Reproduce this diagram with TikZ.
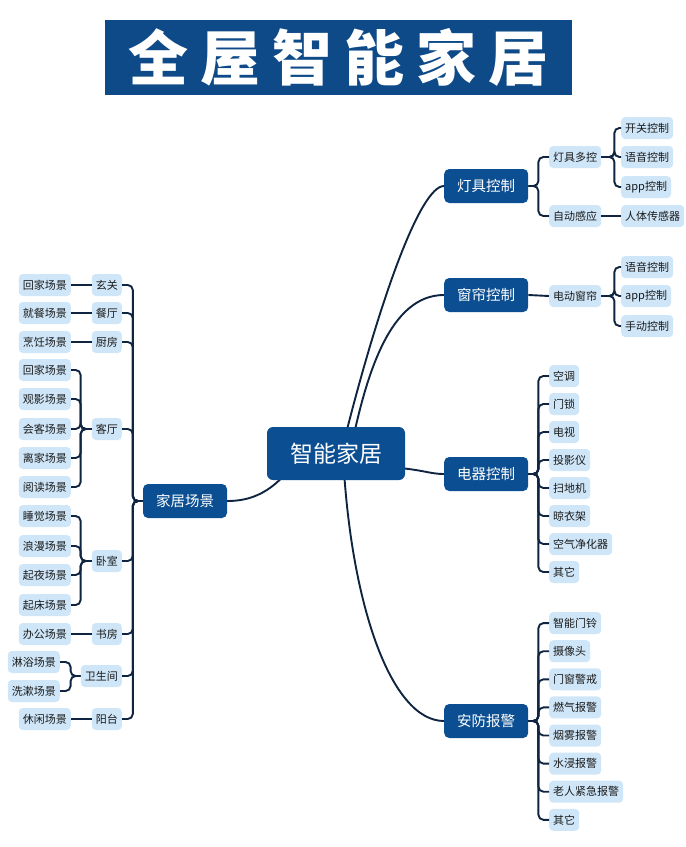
\documentclass[tikz,border=0pt]{standalone}
\usepackage{fontspec}
\setmainfont{Noto Sans CJK SC}
\usetikzlibrary{backgrounds}
\definecolor{deepblue}{HTML}{0B4F92}
\definecolor{titleblue}{HTML}{0E4A87}
\definecolor{paleblue}{HTML}{CFE6F8}
\definecolor{linecol}{HTML}{0F2440}
\definecolor{inkcol}{HTML}{1A1A1A}

\begin{document}
\begin{tikzpicture}[x=1pt,y=-1pt,
			box/.style={rounded corners=4pt,fill=paleblue,text=inkcol,inner xsep=4pt,inner ysep=0pt,
				minimum height=22pt,font=\fontsize{11}{11}\selectfont},
			topic/.style={rounded corners=5pt,fill=deepblue,text=white,minimum width=84pt,
				minimum height=34pt,font=\fontsize{14.5}{14.5}\selectfont},
			core/.style={rounded corners=6pt,fill=deepblue,text=white,minimum width=138pt,
				minimum height=53pt,font=\fontsize{23}{23}\selectfont},
			link/.style={draw=linecol,line width=1.9pt},
			fork/.style={link,rounded corners=5pt}]
		\useasboundingbox (0,0) rectangle (686,847);

		\node[fill=titleblue,text=white,inner sep=0pt,minimum width=467pt,minimum height=75pt,
			font=\fontsize{60}{60}\selectfont\bfseries] (ttl) at (338.5,57.5)
			{全\hspace{12pt}屋\hspace{12pt}智\hspace{12pt}能\hspace{12pt}家\hspace{12pt}居};

		\node[core] (core) at (336,453.5) {智能家居};

		\node[topic,anchor=west] (light) at (444,186) {灯具控制};
		\node[topic,anchor=west] (curtain) at (444,295) {窗帘控制};
		\node[topic,anchor=west] (device) at (444,474) {电器控制};
		\node[topic,anchor=west] (safety) at (444,721) {安防报警};
		\node[topic] (scene) at (185,501) {家居场景};

		% right side
		\begin{scope}[nodes={box,anchor=west}]
			\node (multi) at (549,157) {灯具多控};
			\node (auto) at (549,216) {自动感应};
			\node (motor) at (549,296) {电动窗帘};
			\node (m1) at (621,128) {开关控制};
			\node (m2) at (621,157) {语音控制};
			\node (m3) at (621,187) {app控制};
			\node (a1) at (621,216) {人体传感器};
			\node (c1) at (621,267) {语音控制};
			\node (c2) at (621,296) {app控制};
			\node (c3) at (621,326) {手动控制};
			\foreach \txt [count=\i] in {空调,门锁,电视,投影仪,扫地机,晾衣架,空气净化器,其它}
				\node (d\i) at (549,{348+28*\i}) {\txt};
			\foreach \txt [count=\i] in {智能门铃,摄像头,门窗警戒,燃气报警,烟雾报警,水浸报警,老人紧急报警,其它}
				\node (s\i) at (549,{595+28.1*\i}) {\txt};
		\end{scope}

		% left side
		\begin{scope}[nodes={box,anchor=east}]
			\node (porch) at (122,285) {玄关};
			\node (dining) at (122,313) {餐厅};
			\node (kitchen) at (122,342) {厨房};
			\node (living) at (122,429) {客厅};
			\node (bed) at (122,561) {卧室};
			\node (study) at (122,634) {书房};
			\node (bath) at (122,676) {卫生间};
			\node (balcony) at (122,719) {阳台};
			\node (porch1) at (71,285) {回家场景};
			\node (dining1) at (71,313) {就餐场景};
			\node (kitchen1) at (71,342) {烹饪场景};
			\foreach \txt/\y [count=\i] in {回家场景/370,观影场景/399,会客场景/429,离家场景/458,阅读场景/487}
				\node (living\i) at (71,\y) {\txt};
			\foreach \txt/\y [count=\i] in {睡觉场景/516,浪漫场景/546,起夜场景/575,起床场景/605}
				\node (bed\i) at (71,\y) {\txt};
			\node (study1) at (71,634) {办公场景};
			\node (bath1) at (60,662) {淋浴场景};
			\node (bath2) at (60,691) {洗漱场景};
			\node (balcony1) at (71,719) {休闲场景};
		\end{scope}

		\begin{scope}[on background layer]
			\draw[link] ([xshift=5pt]core.center) .. controls +(37,-150) and +(-24,0) .. (light.west);
			\draw[link] ([xshift=14pt]core.center) .. controls +(16,-80) and +(-54,0) .. (curtain.west);
			\draw[link] ([yshift=-12pt]core.center) .. controls +(84,0) and +(-20,0) .. (device.west);
			\draw[link] ([xshift=7pt]core.center) .. controls +(7,147) and +(-54,0) .. (safety.west);
			\draw[link] ([xshift=-36pt]core.center) .. controls +(-25,42) and +(20,0) .. (scene.east);
		\end{scope}

		\foreach \n in {multi,auto}
			\draw[fork] (light.east) -- ++(10,0) |- (\n.west);
		\foreach \n in {m1,m2,m3}
			\draw[fork] (multi.east) -- ++(13,0) |- (\n.west);
		\draw[link] (auto.east) -- (a1.west);
		\draw[link] (curtain.east) -- (motor.west);
		\foreach \n in {c1,c2,c3}
			\draw[fork] (motor.east) -- ++(13,0) |- (\n.west);
		\foreach \i in {1,...,8} {
			\draw[fork] (device.east) -- ++(10,0) |- (d\i.west);
			\draw[fork] (safety.east) -- ++(10,0) |- (s\i.west);
		}

		\foreach \n in {porch,dining,kitchen,living,bed,study,bath,balcony}
			\draw[fork] (scene.west) -- ++(-10,0) |- (\n.east);
		\foreach \n in {porch,dining,kitchen,study,balcony}
			\draw[link] (\n1.east) -- (\n.west);
		\foreach \i in {1,...,5}
			\draw[fork] (living.west) -- ++(-11,0) |- (living\i.east);
		\foreach \i in {1,...,4}
			\draw[fork] (bed.west) -- ++(-11,0) |- (bed\i.east);
		\foreach \i in {1,2}
			\draw[fork] (bath.west) -- ++(-10,0) |- (bath\i.east);
\end{tikzpicture}
\end{document}
